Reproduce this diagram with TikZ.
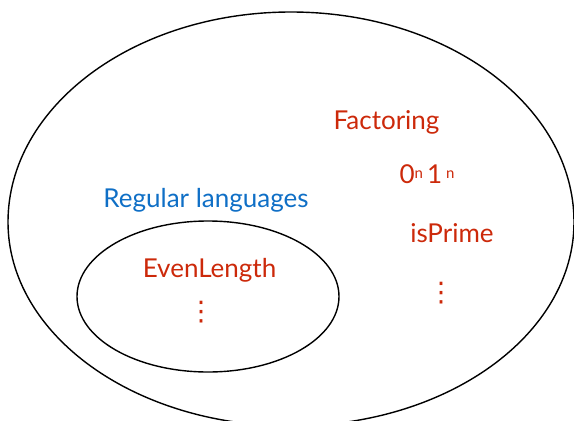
\documentclass[tikz,border=0pt]{standalone}
\usepackage{fontspec}
\setmainfont{Lato}
\newfontfamily\symbolfont{DejaVu Sans}
\definecolor{langred}{RGB}{204,41,10}
\definecolor{langblue}{RGB}{15,111,198}
\newcommand{\supn}{\raisebox{5pt}{\fontsize{15}{15}\selectfont n}}
\begin{document}
\begin{tikzpicture}[x=1pt,y=-1pt,
  setline/.style={black, line width=1.4pt},
  redlabel/.style={text=langred, font=\fontsize{26}{30}\selectfont, anchor=base, inner sep=0pt},
  bluelabel/.style={text=langblue, font=\fontsize{26}{30}\selectfont, anchor=base, inner sep=0pt},
  dotstack/.style={text=langred, font=\symbolfont\fontsize{27}{30}\selectfont, inner sep=0pt, anchor=center}]
\useasboundingbox (0,0) rectangle (574,421);
% outer set: egg-shaped outline, running off the bottom edge
\begin{scope}
  \clip (0,0) rectangle (574,421);
  \draw[setline] (8,222)
    arc[start angle=180, end angle=360, x radius=283, y radius=210]
    arc[start angle=0, end angle=180, x radius=283, y radius=204] -- cycle;
\end{scope}
% regular languages
\draw[setline] (208,296.5) ellipse [x radius=131, y radius=75.5];
% labels
\node[redlabel] (factoring) at (386.5,129) {Factoring};
\node[redlabel] (onen) at (427,183) {0\supn\hspace{4pt}1\hspace{4pt}\supn};
\node[redlabel] (isprime) at (452,242) {isPrime};
\node[dotstack] (moreright) at (441,293) {⋮};
\node[bluelabel] (regular) at (206,207) {Regular languages};
\node[redlabel] (evenlength) at (209.5,277) {EvenLength};
\node[dotstack] (moreleft) at (201,312) {⋮};
\end{tikzpicture}
\end{document}
